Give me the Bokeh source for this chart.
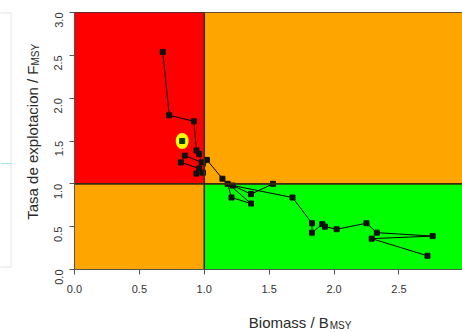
import math
from bokeh.plotting import figure
from bokeh.layouts import row, column
from bokeh.models import Range1d, Span, FixedTicker, BoxAnnotation
from bokeh.embed import file_html
from bokeh.resources import INLINE
from bokeh.core.properties import value

# ---- data ----
b_ratio = [2.72, 2.29, 2.76, 2.33, 2.25, 2.02, 1.93, 1.91, 1.83, 1.83, 1.68,
           1.22, 1.36, 1.53, 1.18, 1.21, 1.36, 1.14, 1.02, 0.99, 0.94, 0.96,
           0.82, 0.85, 0.98, 0.96, 0.94, 0.92, 0.73, 0.68]
f_ratio = [0.16, 0.36, 0.39, 0.43, 0.54, 0.47, 0.50, 0.53, 0.43, 0.54, 0.84,
           0.98, 0.88, 1.00, 1.00, 0.84, 0.77, 1.06, 1.28, 1.13, 1.12, 1.18,
           1.25, 1.33, 1.25, 1.35, 1.39, 1.73, 1.80, 2.54]
current_b = [0.83]
current_f = [1.50]

zone_left = [0, 1, 0, 1]
zone_right = [1, 3, 1, 3]
zone_bottom = [1, 1, 0, 0]
zone_top = [3, 3, 1, 1]
zone_color = ["#FF0000", "#FFA500", "#FFA500", "#00FF00"]

x_ticks = [0, 0.5, 1, 1.5, 2, 2.5, 3]
x_tick_labels = ["0.0", "0.5", "1.0", "1.5", "2.0", "2.5", "3"]
y_ticks = [0, 0.5, 1, 1.5, 2, 2.5, 3]
y_tick_labels = ["0.0", "0.5", "1.0", "1.5", "2.0", "2.5", "3.0"]

x_title = ["Biomass / B"]
y_title = ["Tasa de explotacion / F"]
sub_title = ["MSY"]

FONT = "Liberation Sans"
TXT = "#2a2a2a"


def blank(w, h):
    f = figure(width=w, height=h, x_range=Range1d(0, w), y_range=Range1d(0, h),
               output_backend="svg", toolbar_location=None,
               x_axis_location=None, y_axis_location=None, min_border=0)
    f.grid.visible = False
    f.outline_line_color = None
    return f


# ---- cropped neighbouring panel (left edge) ----
side = blank(12, 332)
side.add_layout(BoxAnnotation(left=-5, right=10.5, bottom=65.5, top=319.5,
                              fill_color=None, line_color="#a0a0a0", line_width=1))
side.add_layout(Span(location=169, dimension="width", line_color="#a8e4ea", line_width=1))

# ---- y title strip ----
yt = blank(32, 332)
yt.text(x=[20], y=[267], text=y_title, angle=math.pi / 2, text_align="right",
        text_baseline="alphabetic", text_font=value(FONT), text_font_size="15px", text_color=TXT)
yt.text(x=[23], y=[267], text=sub_title, angle=math.pi / 2, text_align="left",
        text_baseline="alphabetic", text_font=value(FONT), text_font_size="10px", text_color=TXT)

# ---- main Kobe plot ----
p = figure(width=418, height=299, x_range=Range1d(0, 2.99), y_range=Range1d(0, 3),
           output_backend="svg", toolbar_location=None,
           min_border_left=30, min_border_right=0, min_border_top=12, min_border_bottom=30)
p.grid.visible = False
p.outline_line_color = "#333333"

p.quad(left=zone_left, right=zone_right, bottom=zone_bottom, top=zone_top,
       fill_color=zone_color, line_color=None)
p.add_layout(Span(location=1, dimension="height", line_color="#3b2a12", line_width=1.6))
p.add_layout(Span(location=1, dimension="width", line_color="#3b2a12", line_width=1.6))

p.line(b_ratio, f_ratio, line_color="black", line_width=1)
p.scatter(b_ratio, f_ratio, marker="square", size=5, fill_color="#111111", line_color="#111111")
p.ellipse(current_b, current_f, width=13, height=16, width_units="screen", height_units="screen",
          fill_color="#FFFF00", line_color=None)
p.scatter(current_b, current_f, marker="square", size=5, fill_color="#0a3a0a", line_color="#0a3a0a")

for ax in (p.xaxis, p.yaxis):
    ax.major_tick_in = 0
    ax.major_tick_out = 5
    ax.minor_tick_line_color = None
    ax.axis_line_color = "#555555"
    ax.major_tick_line_color = "#555555"
    ax.major_label_text_font = FONT
    ax.major_label_text_font_size = "11px"
    ax.major_label_text_color = "#333333"

p.xaxis.ticker = FixedTicker(ticks=x_ticks)
p.yaxis.ticker = FixedTicker(ticks=y_ticks)
p.xaxis.major_label_overrides = {float(t): s for t, s in zip(x_ticks, x_tick_labels)}
p.yaxis.major_label_overrides = {float(t): s for t, s in zip(y_ticks, y_tick_labels)}
p.xaxis.major_label_standoff = 10
p.yaxis.major_label_standoff = 11
p.yaxis.major_label_orientation = math.pi / 2

# ---- x title strip ----
xt = blank(418, 33)
xt.text(x=[274], y=[10], text=x_title, text_align="right", text_baseline="alphabetic",
        text_font=value(FONT), text_font_size="15px", text_color=TXT)
xt.text(x=[275], y=[7], text=sub_title, text_align="left", text_baseline="alphabetic",
        text_font=value(FONT), text_font_size="10px", text_color=TXT)

layout = row(side, yt, column(p, xt))
open("out.html", "w").write(file_html(layout, INLINE))
